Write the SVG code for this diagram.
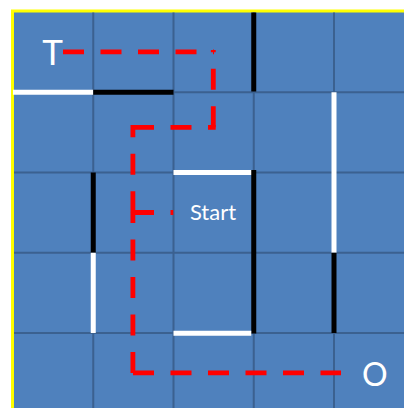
<svg xmlns="http://www.w3.org/2000/svg" width="404" height="408" viewBox="0 0 404 408">
  <style>
    .grid { stroke: #3b6190; stroke-width: 2; fill: none; }
    .wall { stroke-width: 5; stroke-linecap: butt; fill: none; }
    .w { stroke: #ffffff; }
    .b { stroke: #000000; }
    .route { stroke: #ff0000; stroke-width: 4.8; stroke-dasharray: 21 16.5; fill: none; stroke-linecap: butt; }
    .lbl { fill: #ffffff; font-family: Lato, "Liberation Sans", sans-serif; text-anchor: middle; }
  </style>
  <rect x="0" y="0" width="404" height="408" fill="#ffffff"/>
  <g id="board">
    <rect x="12.5" y="11" width="420" height="420" fill="#4f81bd" stroke="#ffff00" stroke-width="3"/>
    <g class="grid">
      <line x1="93.25" y1="12.5" x2="93.25" y2="420"/>
      <line x1="173.5" y1="12.5" x2="173.5" y2="420"/>
      <line x1="253.75" y1="12.5" x2="253.75" y2="420"/>
      <line x1="334" y1="12.5" x2="334" y2="420"/>
      <line x1="14" y1="92.25" x2="420" y2="92.25"/>
      <line x1="14" y1="172.5" x2="420" y2="172.5"/>
      <line x1="14" y1="252.75" x2="420" y2="252.75"/>
      <line x1="14" y1="333" x2="420" y2="333"/>
    </g>
  </g>
  <g id="walls">
    <line class="wall w" x1="13" y1="92.25" x2="93.25" y2="92.25"/>
    <line class="wall b" x1="93.25" y1="92.25" x2="173.5" y2="92.25"/>
    <line class="wall b" x1="253.75" y1="12.5" x2="253.75" y2="91.5"/>
    <line class="wall w" x1="334" y1="92.25" x2="334" y2="252.75"/>
    <line class="wall b" x1="334" y1="252.75" x2="334" y2="333"/>
    <line class="wall b" x1="93.25" y1="172.5" x2="93.25" y2="252.75"/>
    <line class="wall w" x1="93.25" y1="252.75" x2="93.25" y2="333"/>
    <line class="wall w" x1="173.5" y1="172.5" x2="253.75" y2="172.5"/>
    <line class="wall b" x1="253.75" y1="170" x2="253.75" y2="333.5"/>
    <line class="wall w" x1="173.5" y1="333.2" x2="251.25" y2="333.2"/>
  </g>
  <g id="connectors">
    <line class="route" x1="63" y1="51.8" x2="214" y2="51.8"/>
    <line class="route" x1="213.3" y1="127.3" x2="213.3" y2="50"/>
    <line class="route" x1="133" y1="127.3" x2="215.7" y2="127.3"/>
    <line class="route" x1="132.9" y1="212.3" x2="132.9" y2="125"/>
    <line class="route" x1="132.9" y1="373" x2="132.9" y2="212"/>
    <line class="route" x1="130.5" y1="372.9" x2="341" y2="372.9" stroke-dashoffset="-2.5"/>
    <line class="route" x1="133" y1="212.5" x2="173.3" y2="212.5"/>
  </g>
  <g id="node-T"><text class="lbl" x="52.5" y="64.5" font-size="35">T</text></g>
  <g id="node-Start"><text class="lbl" x="213" y="220" font-size="22">Start</text></g>
  <g id="node-O"><text class="lbl" x="374.7" y="386" font-size="32">O</text></g>
</svg>
